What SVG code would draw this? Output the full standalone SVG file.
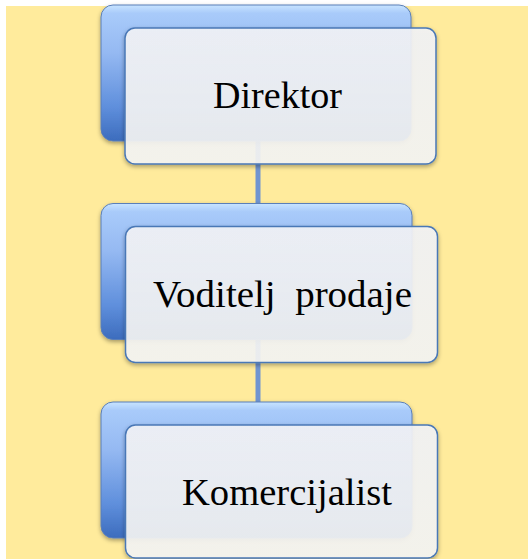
<svg xmlns="http://www.w3.org/2000/svg" width="528" height="559" viewBox="0 0 528 559">
<defs>
<linearGradient id="backGrad" x1="0" y1="0" x2="0" y2="1">
<stop offset="0" stop-color="#c8e4ff"/>
<stop offset="0.06" stop-color="#a9cbfa"/>
<stop offset="0.35" stop-color="#95b9f2"/>
<stop offset="0.75" stop-color="#5f8fdc"/>
<stop offset="1" stop-color="#3c6cbd"/>
</linearGradient>
<linearGradient id="frontGrad" x1="0" y1="0" x2="0" y2="1">
<stop offset="0" stop-color="#f3f4f8"/>
<stop offset="1" stop-color="#f6f6f4"/>
</linearGradient>
<filter id="shadow" x="-10%" y="-10%" width="120%" height="130%">
<feDropShadow dx="0" dy="2" stdDeviation="2" flood-color="#000" flood-opacity="0.35"/>
</filter>
</defs>
<style>
.bg{fill:#ffeb9c}
.back{fill:url(#backGrad);stroke:#5a7fb8;stroke-width:1;filter:url(#shadow)}
.front{fill:url(#frontGrad);fill-opacity:0.9;stroke:#4a78b6;stroke-width:1.5;filter:url(#shadow)}
.conn{stroke:#7095d0;stroke-width:5;fill:none}
.lbl{font-family:"Liberation Serif","Times New Roman",serif;font-size:38px;fill:#000;white-space:pre}
</style>
<rect class="bg" x="6" y="6" width="522" height="553"/>
<g id="connectors">
<line class="conn" x1="258" y1="140" x2="258" y2="205"/>
<line class="conn" x1="258" y1="338" x2="258" y2="403"/>
</g>
<g id="node-direktor">
<rect class="back" x="101" y="5" width="310" height="136" rx="12"/>
<rect class="front" x="125" y="28" width="311" height="136" rx="10"/>
<text class="lbl" x="213" y="108" textLength="129" lengthAdjust="spacingAndGlyphs">Direktor</text>
</g>
<g id="node-voditelj">
<rect class="back" x="101" y="203.5" width="311" height="136" rx="12"/>
<rect class="front" x="125.5" y="226.5" width="312" height="136" rx="10"/>
<text class="lbl" x="153" y="306.5" textLength="259" lengthAdjust="spacingAndGlyphs" xml:space="preserve">Voditelj  prodaje</text>
</g>
<g id="node-komercijalist">
<rect class="back" x="101" y="402" width="311" height="136" rx="12"/>
<rect class="front" x="125.5" y="425" width="312" height="133" rx="10"/>
<text class="lbl" x="182" y="505" textLength="210" lengthAdjust="spacingAndGlyphs">Komercijalist</text>
</g>
</svg>
